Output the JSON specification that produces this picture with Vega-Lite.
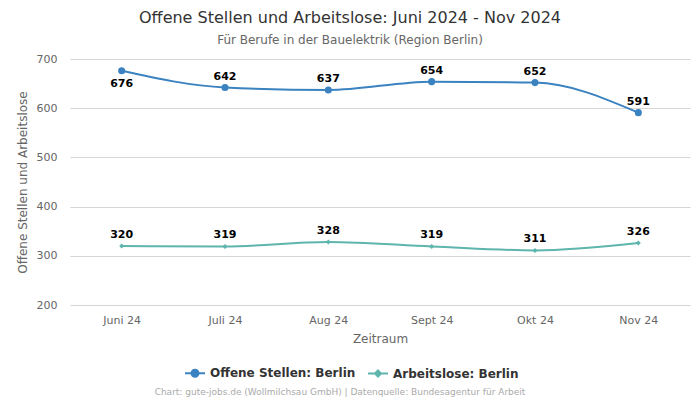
{
  "$schema": "https://vega.github.io/schema/vega-lite/v6.json",
  "width": 620,
  "height": 246,
  "autosize": {"type": "none"},
  "padding": {"left": 70, "top": 59, "right": 10, "bottom": 95},
  "background": "white",
  "config": {
    "font": "DejaVu Sans",
    "view": {"stroke": null}
  },
  "title": {
    "text": "Offene Stellen und Arbeitslose: Juni 2024 - Nov 2024",
    "subtitle": "Für Berufe in der Bauelektrik (Region Berlin)",
    "fontSize": 16,
    "fontWeight": "normal",
    "color": "#333333",
    "subtitleFontSize": 12,
    "subtitleColor": "#666666",
    "subtitlePadding": 9,
    "anchor": "middle",
    "dx": -30,
    "offset": 7
  },
  "data": {
    "values": [
      {"Zeitraum": "Juni 24", "Serie": "Offene Stellen: Berlin", "Wert": 676},
      {"Zeitraum": "Juli 24", "Serie": "Offene Stellen: Berlin", "Wert": 642},
      {"Zeitraum": "Aug 24", "Serie": "Offene Stellen: Berlin", "Wert": 637},
      {"Zeitraum": "Sept 24", "Serie": "Offene Stellen: Berlin", "Wert": 654},
      {"Zeitraum": "Okt 24", "Serie": "Offene Stellen: Berlin", "Wert": 652},
      {"Zeitraum": "Nov 24", "Serie": "Offene Stellen: Berlin", "Wert": 591},
      {"Zeitraum": "Juni 24", "Serie": "Arbeitslose: Berlin", "Wert": 320},
      {"Zeitraum": "Juli 24", "Serie": "Arbeitslose: Berlin", "Wert": 319},
      {"Zeitraum": "Aug 24", "Serie": "Arbeitslose: Berlin", "Wert": 328},
      {"Zeitraum": "Sept 24", "Serie": "Arbeitslose: Berlin", "Wert": 319},
      {"Zeitraum": "Okt 24", "Serie": "Arbeitslose: Berlin", "Wert": 311},
      {"Zeitraum": "Nov 24", "Serie": "Arbeitslose: Berlin", "Wert": 326}
    ]
  },
  "encoding": {
    "x": {
      "field": "Zeitraum",
      "type": "ordinal",
      "sort": ["Juni 24", "Juli 24", "Aug 24", "Sept 24", "Okt 24", "Nov 24"],
      "scale": {"type": "point", "padding": 0.5},
      "axis": {
        "title": "Zeitraum",
        "titleFontSize": 12,
        "titleFontWeight": "normal",
        "titleColor": "#666666",
        "titlePadding": 8,
        "labelAngle": 0,
        "labelFontSize": 11,
        "labelColor": "#666666",
        "labelPadding": 9,
        "ticks": false,
        "domain": false,
        "grid": false
      }
    },
    "y": {
      "field": "Wert",
      "type": "quantitative",
      "scale": {"domain": [200, 700], "nice": false, "zero": false},
      "axis": {
        "title": "Offene Stellen und Arbeitslose",
        "titleFontSize": 12,
        "titleFontWeight": "normal",
        "titleColor": "#666666",
        "titlePadding": 7,
        "values": [200, 300, 400, 500, 600, 700],
        "labelFontSize": 11,
        "labelColor": "#666666",
        "labelPadding": 13,
        "ticks": false,
        "domain": false,
        "gridColor": "#d6d6d6",
        "gridWidth": 1
      }
    }
  },
  "layer": [
    {
      "mark": {"type": "line", "interpolate": "monotone", "strokeWidth": 2},
      "encoding": {
        "color": {
          "field": "Serie",
          "type": "nominal",
          "scale": {
            "domain": ["Offene Stellen: Berlin", "Arbeitslose: Berlin"],
            "range": ["#3a82c0", "#5db5ad"]
          },
          "legend": {
            "orient": "none",
            "direction": "horizontal",
            "legendX": 85,
            "legendY": 303,
            "title": "Chart: gute-jobs.de (Wollmilchsau GmbH) | Datenquelle: Bundesagentur für Arbeit",
            "titleOrient": "bottom",
            "titleAnchor": "middle",
            "titleFontSize": 9,
            "titleFontWeight": "normal",
            "titleColor": "#aaaaaa",
            "titlePadding": 7,
            "titleLimit": 700,
            "labelFontSize": 12,
            "labelFontWeight": "bold",
            "labelColor": "#333333",
            "symbolType": "M-1,0L1,0M-0.35,0A0.35,0.35,0,1,0,0.35,0A0.35,0.35,0,1,0,-0.35,0Z",
            "symbolSize": 400,
            "symbolStrokeWidth": 2,
            "columnPadding": 8,
            "labelOffset": 4,
            "encode": {
              "title": {"update": {"dx": {"value": -11}}},
              "symbols": {
                "update": {
                  "fill": {"scale": "color", "field": "value"},
                  "shape": {"signal": "datum.value == 'Arbeitslose: Berlin' ? 'M-1,0L1,0M-0.3,0L0,-0.3L0.3,0L0,0.3Z' : 'M-1,0L1,0M-0.35,0A0.35,0.35,0,1,0,0.35,0A0.35,0.35,0,1,0,-0.35,0Z'"}
                }
              }
            }
          }
        }
      }
    },
    {
      "transform": [{"filter": "datum.Serie == 'Offene Stellen: Berlin'"}],
      "mark": {"type": "point", "filled": true, "opacity": 1, "shape": "circle", "size": 50, "color": "#3a82c0"}
    },
    {
      "transform": [{"filter": "datum.Serie == 'Arbeitslose: Berlin'"}],
      "mark": {"type": "point", "filled": true, "opacity": 1, "shape": "diamond", "size": 25, "color": "#5db5ad"}
    },
    {
      "transform": [
        {"filter": "!(datum.Zeitraum == 'Juni 24' && datum.Serie == 'Offene Stellen: Berlin')"}
      ],
      "mark": {"type": "text", "fontSize": 11, "fontWeight": "bold", "color": "#000000", "baseline": "bottom", "dy": -6},
      "encoding": {"text": {"field": "Wert", "type": "quantitative"}}
    },
    {
      "transform": [
        {"filter": "datum.Zeitraum == 'Juni 24' && datum.Serie == 'Offene Stellen: Berlin'"}
      ],
      "mark": {"type": "text", "fontSize": 11, "fontWeight": "bold", "color": "#000000", "baseline": "top", "dy": 7},
      "encoding": {"text": {"field": "Wert", "type": "quantitative"}}
    }
  ]
}
